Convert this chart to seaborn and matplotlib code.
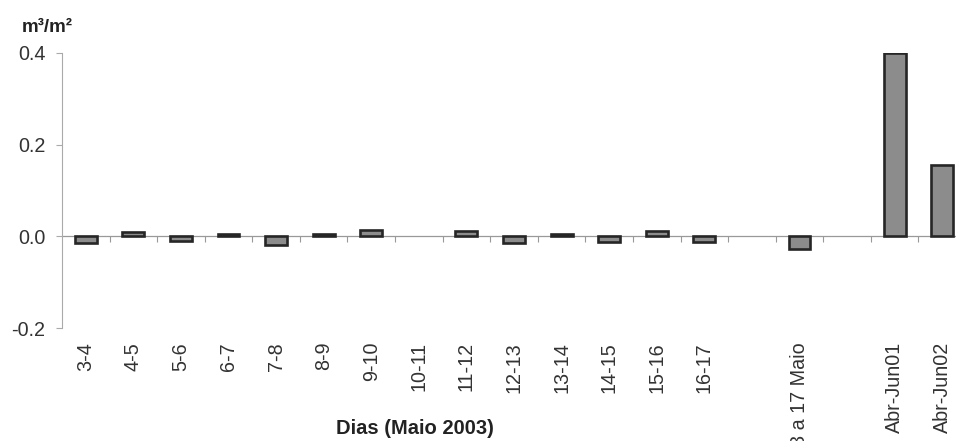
import numpy as np
import pandas as pd
import matplotlib
matplotlib.use("Agg")
import matplotlib.pyplot as plt
import seaborn as sns

# ---- data ----
days = ["3-4", "4-5", "5-6", "6-7", "7-8", "8-9", "9-10", "10-11",
        "11-12", "12-13", "13-14", "14-15", "15-16", "16-17"]
day_values = [-0.015, 0.010, -0.010, 0.005, -0.020, 0.005, 0.013, np.nan,
              0.011, -0.014, 0.006, -0.012, 0.012, -0.012]
period_labels = ["3 a 17 Maio", "Abr-Jun01", "Abr-Jun02"]
period_values = [-0.028, 0.400, 0.155]
y_ticks = [-0.2, 0.0, 0.2, 0.4]
y_unit = "m³/m²"
x_title = "Dias (Maio 2003)"

# slots: days, gap, total, gap, seasonal periods
categories = days + ["gap1", period_labels[0], "gap2"] + period_labels[1:]
values = day_values + [np.nan, period_values[0], np.nan] + period_values[1:]
tick_labels = days + ["", period_labels[0], ""] + period_labels[1:]
df = pd.DataFrame({"cat": categories, "val": values})

sns.set_theme(style="white")
plt.rcParams["font.family"] = ["Liberation Sans", "DejaVu Sans"]

fig = plt.figure(figsize=(9.56, 4.41), dpi=100)
ax = fig.add_axes([62 / 956, 113 / 441, 894 / 956, 275 / 441])

sns.barplot(data=df, x="cat", y="val", order=categories, color="#8c8c8c",
            width=0.46, edgecolor="#262626", linewidth=1.9, errorbar=None,
            saturation=1, ax=ax)

ax.set_xlim(-0.5, 18.29)
ax.set_ylim(-0.2, 0.4)
ax.set_yticks(y_ticks)
ax.set_yticklabels([f"{v:.1f}" for v in y_ticks], fontsize=14.2, color="#333333")
ax.set_xticks(range(len(categories)))
ax.set_xticklabels(tick_labels, rotation=90, fontsize=14.2, color="#333333",
                   ha="center", va="top")
ax.tick_params(axis="x", length=0, pad=10)
ax.tick_params(axis="y", length=4, width=0.8, color="#aaaaaa", pad=8, left=True)

for s in ["top", "right", "bottom"]:
    ax.spines[s].set_visible(False)
ax.spines["left"].set_color("#aaaaaa")
ax.spines["left"].set_linewidth(0.8)

# zero line with category boundary ticks
sec = ax.secondary_xaxis(1 / 3)
sec.set_xticks([k + 0.5 for k in range(len(categories) - 1)])
sec.tick_params(axis="x", length=4, width=0.8, color="#999999",
                labelbottom=False, labeltop=False)
for s in sec.spines.values():
    s.set_color("#999999")
    s.set_linewidth(0.9)

ax.set_ylabel("")
ax.set_xlabel(x_title, fontsize=14.5, fontweight="bold", color="#222222")
ax.xaxis.set_label_coords(415 / 956, 1 - 419 / 441, transform=fig.transFigure)
ax.xaxis.label.set_va("top")

fig.text(22 / 956, 1 - 28 / 441, y_unit, fontsize=13.5, fontweight="bold",
         color="#222222", ha="left", va="center")

fig.savefig("out.png", dpi=100, facecolor="white")
